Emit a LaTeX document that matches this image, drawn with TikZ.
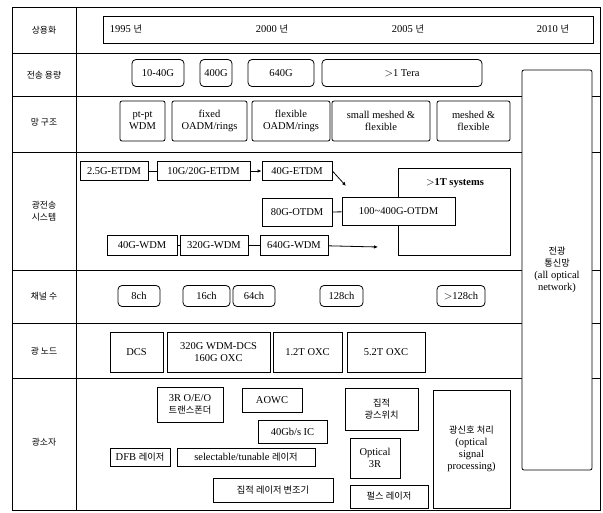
\documentclass[tikz,border=0pt]{standalone}
\usepackage{fontspec}
\setmainfont{Liberation Serif}
\newfontfamily\kr{Noto Sans CJK KR}[Scale=0.88]
\usepackage{tikz}
\usetikzlibrary{arrows.meta,positioning}

\begin{document}
\begin{tikzpicture}[x=1pt,y=-1pt,
  every node/.style={font=\fontsize{10.5}{12}\selectfont, inner sep=1pt, align=center},
  grid/.style={line width=0.8pt},
  cell/.style={draw, line width=0.8pt, fill=white},
  rcell/.style={cell, rounded corners=4pt},
  lab/.style={font=\kr},
  link/.style={line width=0.8pt},
  flow/.style={link, -{Latex[length=4pt,width=3.5pt]}}
]
\useasboundingbox (0,0) rectangle (603,513);
% ---- table frame ----
\draw[grid] (12,7) rectangle (600,510);
\draw[grid] (76,7) -- (76,510);
\foreach \y in {53,96,152,270,323,378}
  \draw[grid] (12,\y) -- (600,\y);
% ---- row labels ----
\node[lab] (hyear) at (44,30) {상용화};
\node[lab] (hcap)  at (44,75) {전송 용량};
\node[lab] (hnet)  at (44,122) {망 구조};
\node[lab] (hsys)  at (44,211) {광전송\\시스템};
\node[lab] (hch)   at (44,296) {채널 수};
\node[lab] (hnode) at (44,351) {광 노드};
\node[lab] (hdev)  at (44,442) {광소자};
% ---- commercialisation years ----
\node[cell, minimum width=490, minimum height=27] (years) at (348,29.5) {};
\node (y1995) at (126,29) {1995 {\kr 년}};
\node (y2000) at (272,29) {2000 {\kr 년}};
\node (y2005) at (408,29) {2005 {\kr 년}};
\node (y2010) at (553,29) {2010 {\kr 년}};
% ---- capacity ----
\node[rcell, minimum width=52, minimum height=27] (cap1) at (158,73) {10-40G};
\node[rcell, minimum width=32, minimum height=27] (cap2) at (216,73) {400G};
\node[rcell, minimum width=66, minimum height=27] (cap3) at (281,73) {640G};
\node[rcell, minimum width=160, minimum height=27] (cap4) at (402,73) {$>$1 Tera};
% ---- network structure ----
\node[rcell, rounded corners=2pt, minimum width=45, minimum height=40] (net1) at (142.5,121) {pt-pt\\WDM};
\node[rcell, rounded corners=2pt, minimum width=75, minimum height=40] (net2) at (209.5,121) {fixed\\OADM/rings};
\node[rcell, rounded corners=2pt, minimum width=78, minimum height=40] (net3) at (291,121) {flexible\\OADM/rings};
\node[rcell, rounded corners=2pt, minimum width=98, minimum height=40] (net4) at (381,121) {small meshed \&\\flexible};
\node[rcell, rounded corners=2pt, minimum width=73, minimum height=40] (net5) at (473.5,121) {meshed \&\\flexible};
% ---- transmission systems ----
\node[cell, minimum width=112, minimum height=87] (tsys) at (454,211.5) {};
\node[font=\fontsize{10.5}{12}\bfseries] (tsystxt) at (455,183) {$>$1T systems};
\node[cell, minimum width=68, minimum height=19] (etdmA) at (114,171) {2.5G-ETDM};
\node[cell, minimum width=93, minimum height=19] (etdmB) at (203.5,171) {10G/20G-ETDM};
\node[cell, minimum width=70, minimum height=19] (etdmC) at (297,171) {40G-ETDM};
\node[cell, minimum width=70, minimum height=28] (otdmA) at (297,212.5) {80G-OTDM};
\node[cell, minimum width=113, minimum height=28] (otdmB) at (398.5,211) {100\textasciitilde400G-OTDM};
\node[cell, minimum width=70, minimum height=20] (wdmA) at (142,245) {40G-WDM};
\node[cell, minimum width=68, minimum height=20] (wdmB) at (214,245) {320G-WDM};
\node[cell, minimum width=68, minimum height=20] (wdmC) at (294,245) {640G-WDM};
\coordinate (tsysin) at (346,186);
\coordinate (wdmend) at (378,247);
\draw[link] (etdmA) -- (etdmB);
\draw[flow] (etdmB) -- (etdmC);
\draw[flow] (etdmC.east) -- (tsysin);
\draw[link] (otdmA) -- (otdmB);
\draw[link] (wdmA) -- (wdmB);
\draw[link] (wdmB) -- (wdmC);
\draw[flow] (wdmC) -- (wdmend);
% ---- channels ----
\node[rcell, minimum width=42, minimum height=21] (ch1) at (139,296) {8ch};
\node[rcell, minimum width=47, minimum height=21] (ch2) at (206.5,296) {16ch};
\node[rcell, minimum width=42, minimum height=21] (ch3) at (254,296) {64ch};
\node[rcell, minimum width=43, minimum height=21] (ch4) at (341.5,296) {128ch};
\node[rcell, minimum width=48, minimum height=21] (ch5) at (461,296) {$>$128ch};
% ---- optical nodes ----
\node[cell, minimum width=53, minimum height=40] (node1) at (136.5,352) {DCS};
\node[cell, minimum width=103, minimum height=40] (node2) at (218.5,352) {320G WDM-DCS\\160G OXC};
\node[cell, minimum width=69, minimum height=40] (node3) at (307.5,352) {1.2T OXC};
\node[cell, minimum width=78, minimum height=40] (node4) at (386,352) {5.2T OXC};
% ---- devices ----
\node[cell, minimum width=66, minimum height=35] (trans) at (190,404.5) {3R O/E/O\\{\kr 트랜스폰더}};
\node[cell, minimum width=60, minimum height=24] (aowc) at (272,400) {AOWC};
\node[cell, minimum width=69, minimum height=23] (ic40) at (292.5,431.5) {40Gb/s IC};
\node[cell, minimum width=60, minimum height=18] (dfb) at (140,457.5) {DFB {\kr 레이저}};
\node[cell, minimum width=138, minimum height=18] (tun) at (246,457.5) {selectable/tunable {\kr 레이저}};
\node[cell, minimum width=120, minimum height=24] (intmod) at (273,490) {\kr 집적 레이저 변조기};
\node[cell, minimum width=73, minimum height=42] (osw) at (381.5,409) {\kr 집적\\\kr 광스위치};
\node[cell, minimum width=50, minimum height=40] (o3r) at (375,458) {Optical\\3R};
\node[cell, minimum width=78, minimum height=23] (plaser) at (389,496.5) {\kr 펄스 레이저};
\node[cell, minimum width=77, minimum height=118] (osp) at (471.5,449) {{\kr 광신호 처리}\\(optical\\signal\\processing)};
% ---- all optical network ----
\node[rcell, rounded corners=2pt, minimum width=70, minimum height=400] (aon) at (557,270) {{\kr 전광}\\{\kr 통신망}\\(all optical\\network)};
\end{tikzpicture}
\end{document}
